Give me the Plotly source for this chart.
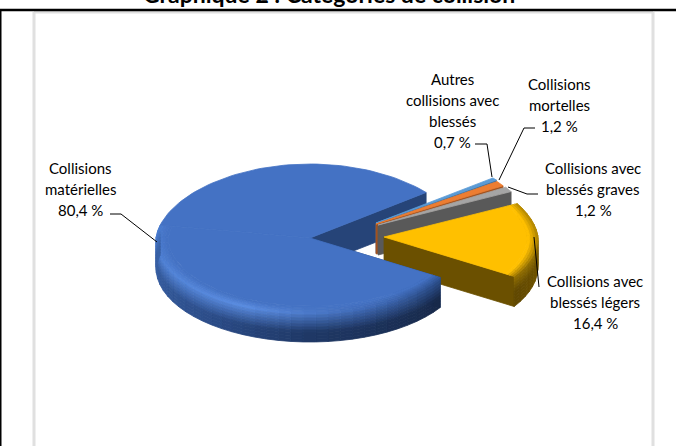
import numpy as np
import plotly.graph_objects as go

# ---- data ----
categories = ["Autres collisions avec blessés", "Collisions mortelles",
              "Collisions avec blessés graves", "Collisions avec blessés légers",
              "Collisions matérielles"]
values = [0.7, 1.2, 1.2, 16.4, 80.4]
label_lines = [["Autres", "collisions avec", "blessés"], ["Collisions", "mortelles"],
               ["Collisions avec", "blessés graves"], ["Collisions avec", "blessés légers"],
               ["Collisions", "matérielles"]]
top_colors = ["#5b9bd5", "#ed7d31", "#a5a5a5", "#ffc000", "#4472c4"]
wall_colors = ["#3b6f9f", "#a3521e", "#595959", "#6b5000", "#264478"]
title_text = "Graphique 2 : Catégories de collision"

# ---- geometry of the tilted pie (screen pixels) ----
RX, RY, DEPTH = 154, 74, 30
REAR_SHRINK = 0.07
START = -38
APEX = [(376, 223), (376, 224), (378, 225), (384, 237), (310, 238)]
LABEL_X = [452, 559, 593, 595, 80]
LABEL_Y = [79, 84, 168, 281, 168]
LINE_STEP = 21
LEADERS = [[(475, 144), (487, 144), (492, 177)],
           [(535, 128), (524, 128), (499, 180)],
           [(538, 194), (527, 194), (508, 187)],
           [(534, 237), (539, 287)],
           [(110, 214), (121, 214), (157, 242)]]

fig = go.Figure()


def poly(xs, ys, color):
    fig.add_trace(go.Scatter(x=list(xs), y=list(ys), mode="lines", fill="toself", fillcolor=color,
                             line=dict(color=color, width=0.8), hoverinfo="skip", showlegend=False))


def mix(c1, c2, t):
    t = float(np.clip(t, 0, 1))
    a = [int(c1[i:i + 2], 16) for i in (1, 3, 5)]
    b = [int(c2[i:i + 2], 16) for i in (1, 3, 5)]
    return "#%02x%02x%02x" % tuple(int(round(a[i] + (b[i] - a[i]) * t)) for i in range(3))


def ramp(d, stops):
    """Colour at angle d along a list of (angle, colour) stops."""
    for (a0, c0), (a1, c1) in zip(stops, stops[1:]):
        if d <= a1:
            return mix(c0, c1, (d - a0) / (a1 - a0))
    return stops[-1][1]


def pt(apex, deg, r=1.0, dz=0.0):
    th = np.radians(deg)
    s = np.sin(th)
    shrink = 1 + REAR_SHRINK * np.minimum(s, 0)
    return apex[0] + RX * r * np.cos(th) * shrink, apex[1] + RY * r * s + dz


def sector(apex, a0, a1, r=1.0, n=60):
    ang = np.linspace(a0, a1, n)
    x, y = pt(apex, ang, r)
    return [apex[0], *x, apex[0]], [apex[1], *y, apex[1]]


def wall(apex, deg, color):
    x1, y1 = pt(apex, deg)
    poly([apex[0], x1, x1, apex[0], apex[0]],
         [apex[1], y1, y1 + DEPTH, apex[1] + DEPTH, apex[1]], color)


def rim(apex, a0, a1, side_col, hi_col, top_col, n_ang=30, n_layer=10, ring=0.07, fade=2.2):
    edges = np.linspace(a0, a1, n_ang + 1)
    for i in range(n_ang):
        a, b = edges[i], edges[i + 1]
        mid = (a + b) / 2
        base, hi = side_col(mid), hi_col(mid)
        arc = np.linspace(a, b, 4)
        # side surface, top to bottom
        for k in range(n_layer):
            t0, t1 = k / n_layer, (k + 1) / n_layer
            x0, y0 = pt(apex, arc, 1.0, DEPTH * t0)
            x1, y1 = pt(apex, arc[::-1], 1.0, DEPTH * t1)
            poly([*x0, *x1, x0[0]], [*y0, *y1, y0[0]], mix(hi, base, t0 * fade))
        # bevel on the top face
        for k in range(4):
            r0, r1 = 1 - ring * k / 4, 1 - ring * (k + 1) / 4
            x0, y0 = pt(apex, arc, r0)
            x1, y1 = pt(apex, arc[::-1], r1)
            poly([*x0, *x1, x0[0]], [*y0, *y1, y0[0]], mix(hi, top_col, (k + 1) / 4))


total = sum(values)
sweeps = [v / total * 360 for v in values]
edges = [START + s for s in np.cumsum([0] + sweeps)]

# back wall of the main slice's cut
wall(APEX[4], edges[4] + sweeps[4], wall_colors[4])

# the three thin slices
for i in range(3):
    wall(APEX[i], edges[i + 1], wall_colors[i])
for i in range(3):
    poly(*sector(APEX[i], edges[i], edges[i + 1]), top_colors[i])

# yellow slice
wall(APEX[3], edges[4], wall_colors[3])
rim(APEX[3], edges[3], edges[4],
    lambda d: mix("#8a6800", "#5f4700", (d - edges[3]) / sweeps[3]),
    lambda d: mix("#a88000", "#8f6c00", (d - edges[3]) / sweeps[3]),
    top_colors[3], n_ang=14, ring=0.07)
poly(*sector(APEX[3], edges[3], edges[4], 0.93), top_colors[3])

# main slice
RING = 0.08
wall(APEX[4], edges[4], wall_colors[4])
rim(APEX[4], edges[4], 190,
    lambda d: ramp(d, [(30, "#172848"), (90, "#1f3866"), (130, "#2b4c88"), (190, "#3a63a8")]),
    lambda d: ramp(d, [(30, "#2c4e8a"), (70, "#3f6ab6"), (115, "#5a8ce0"), (190, "#4a7ccf")]),
    top_colors[4], n_ang=34, ring=RING, fade=1.6)
poly(*sector(APEX[4], 190, edges[4] + sweeps[4]), top_colors[4])
poly(*sector(APEX[4], edges[4], 190, 1 - RING), top_colors[4])

# leader lines
for seg in LEADERS:
    fig.add_trace(go.Scatter(x=[p[0] for p in seg], y=[p[1] for p in seg], mode="lines",
                             line=dict(color="#000000", width=1), hoverinfo="skip", showlegend=False))

# labels
FONT = "Lato, Carlito, Calibri, sans-serif"
for i, lines in enumerate(label_lines):
    text_lines = lines + [f"{values[i]:.1f}".replace(".", ",") + " %"]
    for j, t in enumerate(text_lines):
        fig.add_annotation(x=LABEL_X[i], y=LABEL_Y[i] + j * LINE_STEP, text=t, showarrow=False,
                           xanchor="center", yanchor="middle",
                           font=dict(family=FONT, size=15, color="#000000"))
fig.add_annotation(x=329 / 676, y=1 + 6 / 446, xref="paper", yref="paper", text=f"<b>{title_text}</b>",
                   showarrow=False, xanchor="center", yanchor="middle",
                   font=dict(family=FONT, size=23, color="#000000"))

shapes = [
    dict(type="line", x0=34, x1=34, y0=12, y1=446, line=dict(color="#e0e0e0", width=3)),
    dict(type="line", x0=653, x1=653, y0=12, y1=446, line=dict(color="#e0e0e0", width=3)),
    dict(type="line", x0=34, x1=653, y0=12, y1=12, line=dict(color="#e0e0e0", width=3)),
    dict(type="line", x0=0, x1=676, y0=10, y1=10, line=dict(color="#000000", width=2.5)),
    dict(type="line", x0=0.5, x1=0.5, y0=10, y1=446, line=dict(color="#000000", width=2)),
]
fig.update_layout(
    width=676, height=446, margin=dict(l=0, r=0, t=0, b=0), showlegend=False,
    paper_bgcolor="#ffffff", plot_bgcolor="#ffffff", shapes=shapes,
    xaxis=dict(range=[0, 676], visible=False, fixedrange=True),
    yaxis=dict(range=[446, 0], visible=False, fixedrange=True),
)
fig.write_html("out.html", config={"displayModeBar": False},
               post_script="document.body.style.margin='0';document.body.style.overflow='hidden';")
